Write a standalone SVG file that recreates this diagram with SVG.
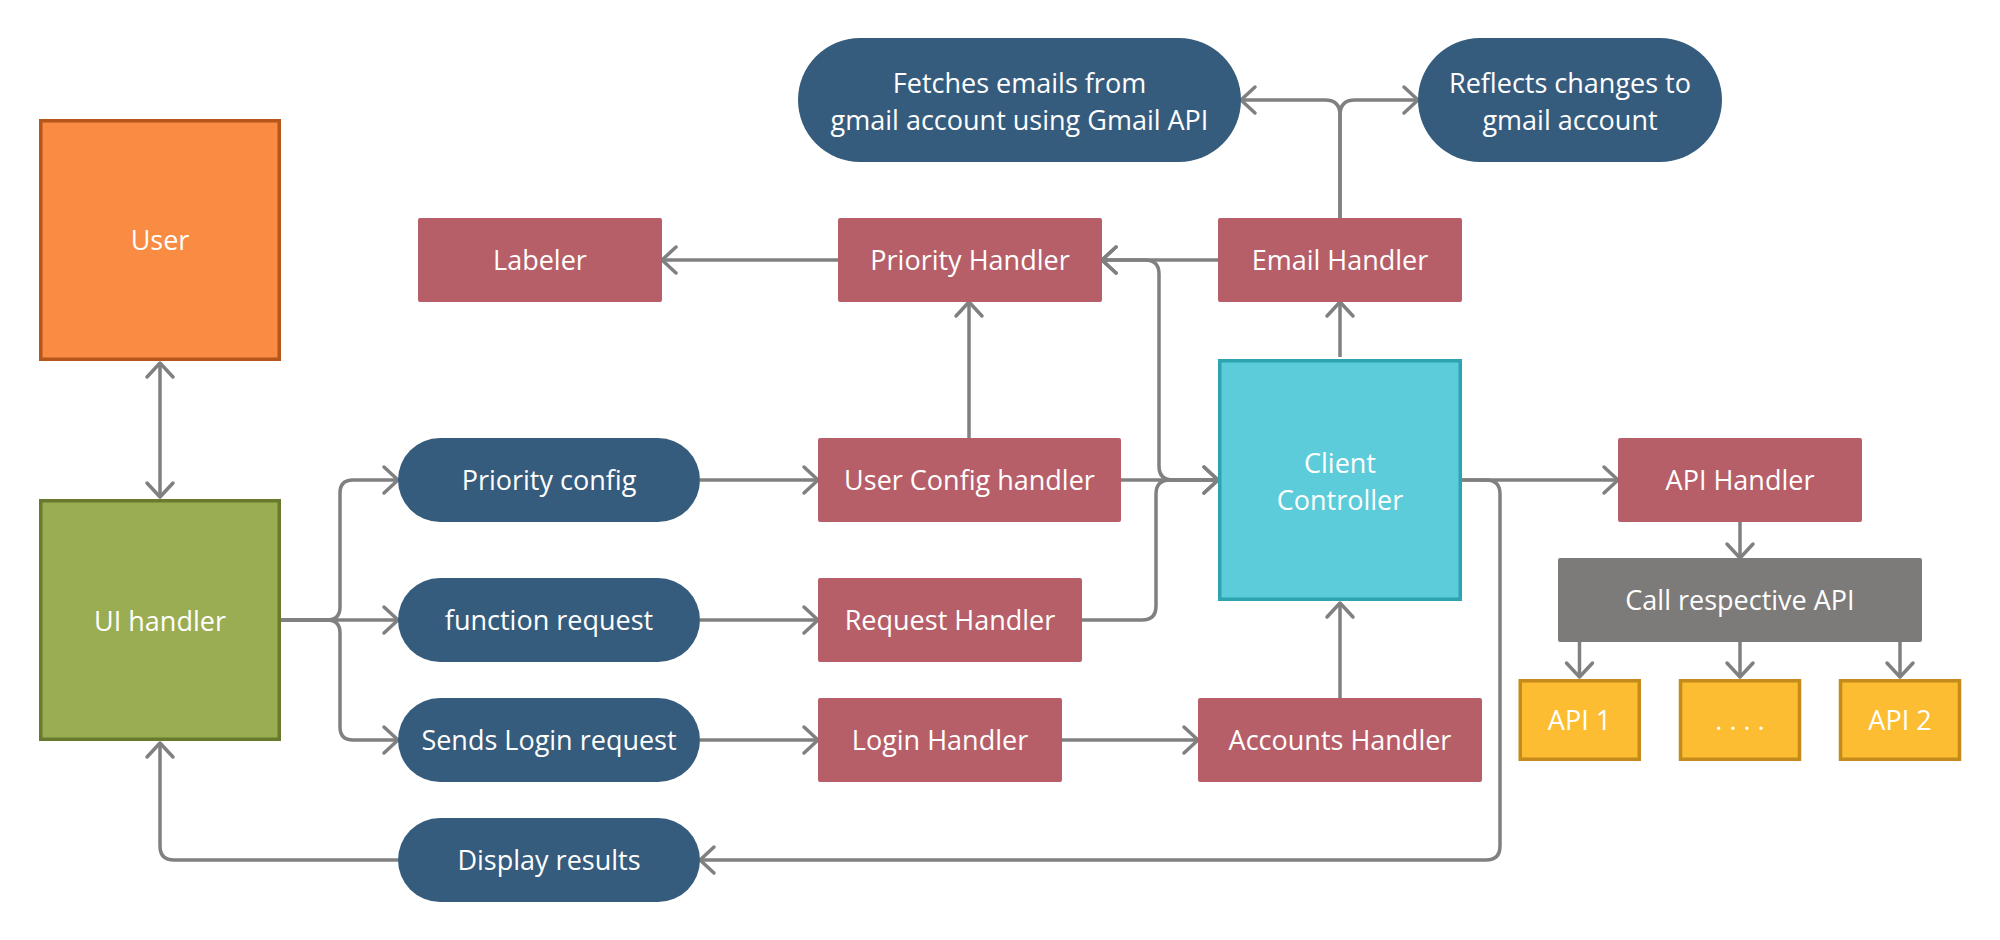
<svg xmlns="http://www.w3.org/2000/svg" width="2000" height="940" viewBox="0 0 2000 940">
<style>
text{font-family:"Open Sans","Noto Sans","Liberation Sans",sans-serif;font-size:27px;fill:#ffffff;text-anchor:middle}
.red{fill:#B75F69}
.pill{fill:#365C7D}
.api{fill:#FDBD33;stroke:#C48A1A;stroke-width:3.5}
.c{fill:none;stroke:#808080;stroke-width:3.5;stroke-linecap:butt;stroke-linejoin:round}
.a{marker-end:url(#ah)}
.b{marker-start:url(#ah);marker-end:url(#ah)}
</style>
<defs>
<marker id="ah" markerUnits="userSpaceOnUse" viewBox="-20 -16 24 32" refX="0" refY="0" markerWidth="24" markerHeight="32" orient="auto-start-reverse">
<path d="M-14,-13 L0,0 L-14,13" fill="none" stroke="#808080" stroke-width="3.5" stroke-linecap="round" stroke-linejoin="round"/>
</marker>
</defs>
<rect width="2000" height="940" fill="#ffffff"/>
<g id="connectors">
<path class="c b" d="M160,363 V497"/>
<path class="c a" d="M281,620 H327 Q340,620 340,607 V493 Q340,480 353,480 H398"/>
<path class="c a" d="M281,620 H398"/>
<path class="c a" d="M281,620 H327 Q340,620 340,633 V727 Q340,740 353,740 H398"/>
<path class="c a" d="M700,480 H818"/>
<path class="c a" d="M700,620 H818"/>
<path class="c a" d="M700,740 H818"/>
<path class="c a" d="M1062,740 H1198"/>
<path class="c a" d="M1340,698 V603"/>
<path class="c a" d="M969,438 V302"/>
<path class="c a" d="M838,260 H662"/>
<path class="c a" d="M1218,260 H1102"/>
<path class="c a" d="M1218,480 H1173 Q1159,480 1159,466 V274 Q1159,260 1145,260 H1102"/>
<path class="c a" d="M1121,480 H1218"/>
<path class="c a" d="M1082,620 H1142 Q1156,620 1156,606 V494 Q1156,480 1170,480 H1218"/>
<path class="c a" d="M1340,357 V302"/>
<path class="c a" d="M1340,218 V115 Q1340,100 1325,100 H1241"/>
<path class="c a" d="M1340,218 V115 Q1340,100 1355,100 H1418"/>
<path class="c a" d="M1462,480 H1618"/>
<path class="c a" d="M1462,480 H1486 Q1500,480 1500,494 V846 Q1500,860 1486,860 H700"/>
<path class="c a" d="M398,860 H174 Q160,860 160,846 V743"/>
<path class="c a" d="M1740,522 V558"/>
<path class="c a" d="M1579.5,642 V677"/>
<path class="c a" d="M1740,642 V677"/>
<path class="c a" d="M1900,642 V677"/>
</g>
<g id="user"><rect x="40.75" y="120.75" width="238.5" height="238.5" fill="#F98B43" stroke="#B5561A" stroke-width="3.5"/><text x="160" y="250">User</text></g>
<g id="ui-handler"><rect x="40.75" y="500.75" width="238.5" height="238.5" fill="#9AAD52" stroke="#687A2C" stroke-width="3.5"/><text x="160" y="631">UI handler</text></g>
<g id="labeler"><rect class="red" x="418" y="218" width="244" height="84" rx="2"/><text x="540" y="270">Labeler</text></g>
<g id="priority-handler"><rect class="red" x="838" y="218" width="264" height="84" rx="2"/><text x="970" y="270">Priority Handler</text></g>
<g id="email-handler"><rect class="red" x="1218" y="218" width="244" height="84" rx="2"/><text x="1340" y="270">Email Handler</text></g>
<g id="fetches"><rect class="pill" x="798" y="38" width="443" height="124" rx="62"/><text x="1019.5" y="93">Fetches emails from</text><text x="1019.5" y="130">gmail account using Gmail API</text></g>
<g id="reflects"><rect class="pill" x="1418" y="38" width="304" height="124" rx="62"/><text x="1570" y="93">Reflects changes to</text><text x="1570" y="130">gmail account</text></g>
<g id="priority-config"><rect class="pill" x="398" y="438" width="302" height="84" rx="42"/><text x="549" y="490">Priority config</text></g>
<g id="function-request"><rect class="pill" x="398" y="578" width="302" height="84" rx="42"/><text x="549" y="630">function request</text></g>
<g id="sends-login"><rect class="pill" x="398" y="698" width="302" height="84" rx="42"/><text x="549" y="750">Sends Login request</text></g>
<g id="display-results"><rect class="pill" x="398" y="818" width="302" height="84" rx="42"/><text x="549" y="870">Display results</text></g>
<g id="user-config-handler"><rect class="red" x="818" y="438" width="303" height="84" rx="2"/><text x="969.5" y="490">User Config handler</text></g>
<g id="request-handler"><rect class="red" x="818" y="578" width="264" height="84" rx="2"/><text x="950" y="630">Request Handler</text></g>
<g id="login-handler"><rect class="red" x="818" y="698" width="244" height="84" rx="2"/><text x="940" y="750">Login Handler</text></g>
<g id="accounts-handler"><rect class="red" x="1198" y="698" width="284" height="84" rx="2"/><text x="1340" y="750">Accounts Handler</text></g>
<g id="client-controller"><rect x="1219.75" y="360.75" width="240.5" height="238.5" fill="#5CCCDA" stroke="#2FA4B1" stroke-width="3.5"/><text x="1340" y="473">Client</text><text x="1340" y="510">Controller</text></g>
<g id="api-handler"><rect class="red" x="1618" y="438" width="244" height="84" rx="2"/><text x="1740" y="490">API Handler</text></g>
<g id="call-api"><rect x="1558" y="558" width="364" height="84" rx="2" fill="#7C7B79"/><text x="1740" y="610">Call respective API</text></g>
<g id="api1"><rect class="api" x="1520.25" y="680.75" width="119" height="78.5"/><text x="1579.5" y="730">API 1</text></g>
<g id="api-more"><rect class="api" x="1680.5" y="680.75" width="119" height="78.5"/><text x="1740" y="730">. . . .</text></g>
<g id="api2"><rect class="api" x="1840.5" y="680.75" width="119" height="78.5"/><text x="1900" y="730">API 2</text></g>
</svg>
